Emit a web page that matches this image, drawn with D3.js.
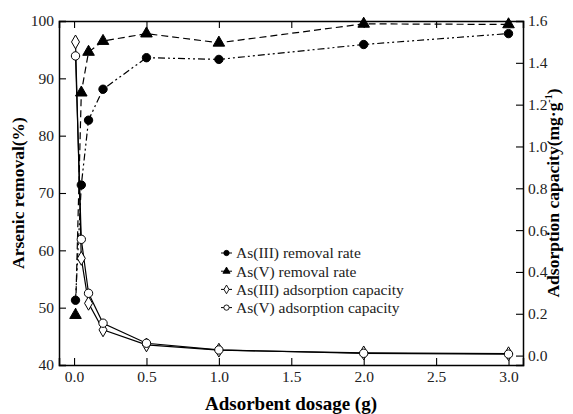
<!DOCTYPE html>
<html>
<head>
<meta charset="utf-8">
<script src="https://cdn.jsdelivr.net/npm/d3@7"></script>
<style>
  body { margin: 0; background: #fff; }
</style>
</head>
<body>
<svg id="chart" width="573" height="414"></svg>
<script>
// dosage (g)
var dosage = [0.01, 0.05, 0.1, 0.2, 0.5, 1.0, 2.0, 3.0];
// removal rate (%) -> left axis
var as3Removal = [51.3, 71.4, 82.7, 88.1, 93.6, 93.3, 95.9, 97.8];
var as5Removal = [48.7, 87.5, 94.6, 96.5, 97.8, 96.2, 99.5, 99.4];
// adsorption capacity (mg/g) -> right axis
var as3Capacity = [1.50, 0.465, 0.25, 0.123, 0.051, 0.026, 0.013, 0.009];
var as5Capacity = [1.433, 0.556, 0.298, 0.155, 0.059, 0.027, 0.011, 0.007];

var xTicks = [0.0, 0.5, 1.0, 1.5, 2.0, 2.5, 3.0];
var leftTicks = [40, 50, 60, 70, 80, 90, 100];
var rightTicks = [0.0, 0.2, 0.4, 0.6, 0.8, 1.0, 1.2, 1.4, 1.6];

var legendLabels = ["As(III) removal rate", "As(V) removal rate",
                    "As(III) adsorption capacity", "As(V) adsorption capacity"];

var FONT = "Liberation Serif";
var margin = {left: 59, top: 21, right: 50, bottom: 49};
var W = 573, H = 414;
var svg = d3.select("#chart");

var x = d3.scaleLinear().domain([-0.104, 3.1]).range([margin.left, W - margin.right]);
var yL = d3.scaleLinear().domain([40, 100]).range([H - margin.bottom, margin.top]);
var yR = d3.scaleLinear().domain([-0.045, 1.6]).range([H - margin.bottom, margin.top]);

var x0 = margin.left, x1 = W - margin.right, y0 = H - margin.bottom, y1 = margin.top;

// ticks for the minor marks
function minorRange(a, b, s) {
  var out = [];
  for (var v = a; v <= b + 1e-9; v += s) out.push(+v.toFixed(3));
  return out;
}

var g = svg.append("g");

// bottom axis (ticks point inwards)
var bx = g.append("g").attr("transform", "translate(0," + y0 + ")");
bx.call(d3.axisBottom(x).tickValues(minorRange(-0.1, 3.1, 0.1)).tickSize(-4).tickFormat(""));
bx.call(d3.axisBottom(x).tickValues(xTicks).tickSize(-7).tickFormat(d3.format(".1f")));
// top axis
var tx = g.append("g").attr("transform", "translate(0," + y1 + ")");
tx.call(d3.axisTop(x).tickValues(minorRange(-0.1, 3.1, 0.1)).tickSize(-4).tickFormat(""));
tx.call(d3.axisTop(x).tickValues(xTicks).tickSize(-7).tickFormat(""));
// left axis
var lx = g.append("g").attr("transform", "translate(" + x0 + ",0)");
lx.call(d3.axisLeft(yL).tickValues(minorRange(40, 100, 2)).tickSize(-4).tickFormat(""));
lx.call(d3.axisLeft(yL).tickValues(leftTicks).tickSize(-7).tickFormat(d3.format("d")));
// right axis
var rx = g.append("g").attr("transform", "translate(" + x1 + ",0)");
rx.call(d3.axisRight(yR).tickValues(minorRange(0, 1.6, 0.1)).tickSize(-4).tickFormat(""));
rx.call(d3.axisRight(yR).tickValues(rightTicks).tickSize(-7).tickFormat(d3.format(".1f")));

g.selectAll(".domain").attr("stroke", "#000").attr("stroke-width", 1.5);
g.selectAll(".tick line").attr("stroke", "#000").attr("stroke-width", 1.1);
g.selectAll(".tick text").attr("font-size", 15.5).attr("fill", "#222").style("font-family", FONT);
bx.selectAll(".tick text").attr("dy", "0.9em").attr("y", 3);
lx.selectAll(".tick text").attr("x", -5);
rx.selectAll(".tick text").attr("x", 5);

// series
var series = [
  {vals: as3Removal, y: yL, dash: "7,3,2,3,2,3", marker: "circle", fill: "#000"},
  {vals: as5Removal, y: yL, dash: "7,4", marker: "triangle", fill: "#000"},
  {vals: as3Capacity, y: yR, dash: null, marker: "diamond", fill: "#fff"},
  {vals: as5Capacity, y: yR, dash: null, marker: "circle", fill: "#fff"}
];

var symType = {circle: d3.symbolCircle, triangle: d3.symbolTriangle, diamond: d3.symbolDiamond};
var symSize = {circle: 55, triangle: 58, diamond: 55};

series.forEach(function (s) {
  var line = d3.line()
    .x(function (d, i) { return x(dosage[i]); })
    .y(function (d) { return s.y(d); });
  g.append("path")
    .datum(s.vals)
    .attr("d", line)
    .attr("fill", "none")
    .attr("stroke", "#000")
    .attr("stroke-width", 1.2)
    .attr("stroke-dasharray", s.dash);
});

series.forEach(function (s) {
  g.selectAll(null)
    .data(s.vals)
    .enter().append("path")
    .attr("d", d3.symbol().type(symType[s.marker]).size(symSize[s.marker]))
    .attr("transform", function (d, i) { return "translate(" + x(dosage[i]) + "," + s.y(d) + ")"; })
    .attr("fill", s.fill)
    .attr("stroke", "#000")
    .attr("stroke-width", 1);
});

// legend
var leg = g.append("g").attr("transform", "translate(221,253)");
series.forEach(function (s, i) {
  var row = leg.append("g").attr("transform", "translate(0," + i * 18.2 + ")");
  row.append("line").attr("x1", 0).attr("x2", 11).attr("y1", 0).attr("y2", 0)
    .attr("stroke", "#000").attr("stroke-width", 1);
  row.append("path")
    .attr("d", d3.symbol().type(symType[s.marker]).size(22))
    .attr("transform", "translate(5.5,0)")
    .attr("fill", s.fill).attr("stroke", "#000").attr("stroke-width", 0.9);
  row.append("text").attr("x", 15).attr("y", 0).attr("dy", "0.35em")
    .style("font-family", FONT)
    .attr("font-size", 15.5).attr("fill", "#222").text(legendLabels[i]);
});

// axis titles
svg.append("text")
  .attr("transform", "translate(24," + (y0 + y1) / 2 + ") rotate(-90)")
  .attr("text-anchor", "middle").attr("font-size", 17.5).attr("font-weight", "bold")
  .style("font-family", FONT)
  .text("Arsenic removal(%)");

var rt = svg.append("text")
  .attr("transform", "translate(559," + (y0 + y1) / 2 + ") rotate(-90)")
  .attr("text-anchor", "middle").attr("font-size", 17.5).attr("font-weight", "bold")
  .style("font-family", FONT);
rt.append("tspan").text("Adsorption capacity(mg\u00b7g");
rt.append("tspan").attr("font-size", 10).attr("dy", -7).text("-1");
rt.append("tspan").attr("dy", 7).text(")");

svg.append("text")
  .attr("x", (x0 + x1) / 2).attr("y", 410)
  .attr("text-anchor", "middle").attr("font-size", 19).attr("font-weight", "bold")
  .style("font-family", FONT)
  .text("Adsorbent dosage (g)");
</script>
</body>
</html>
